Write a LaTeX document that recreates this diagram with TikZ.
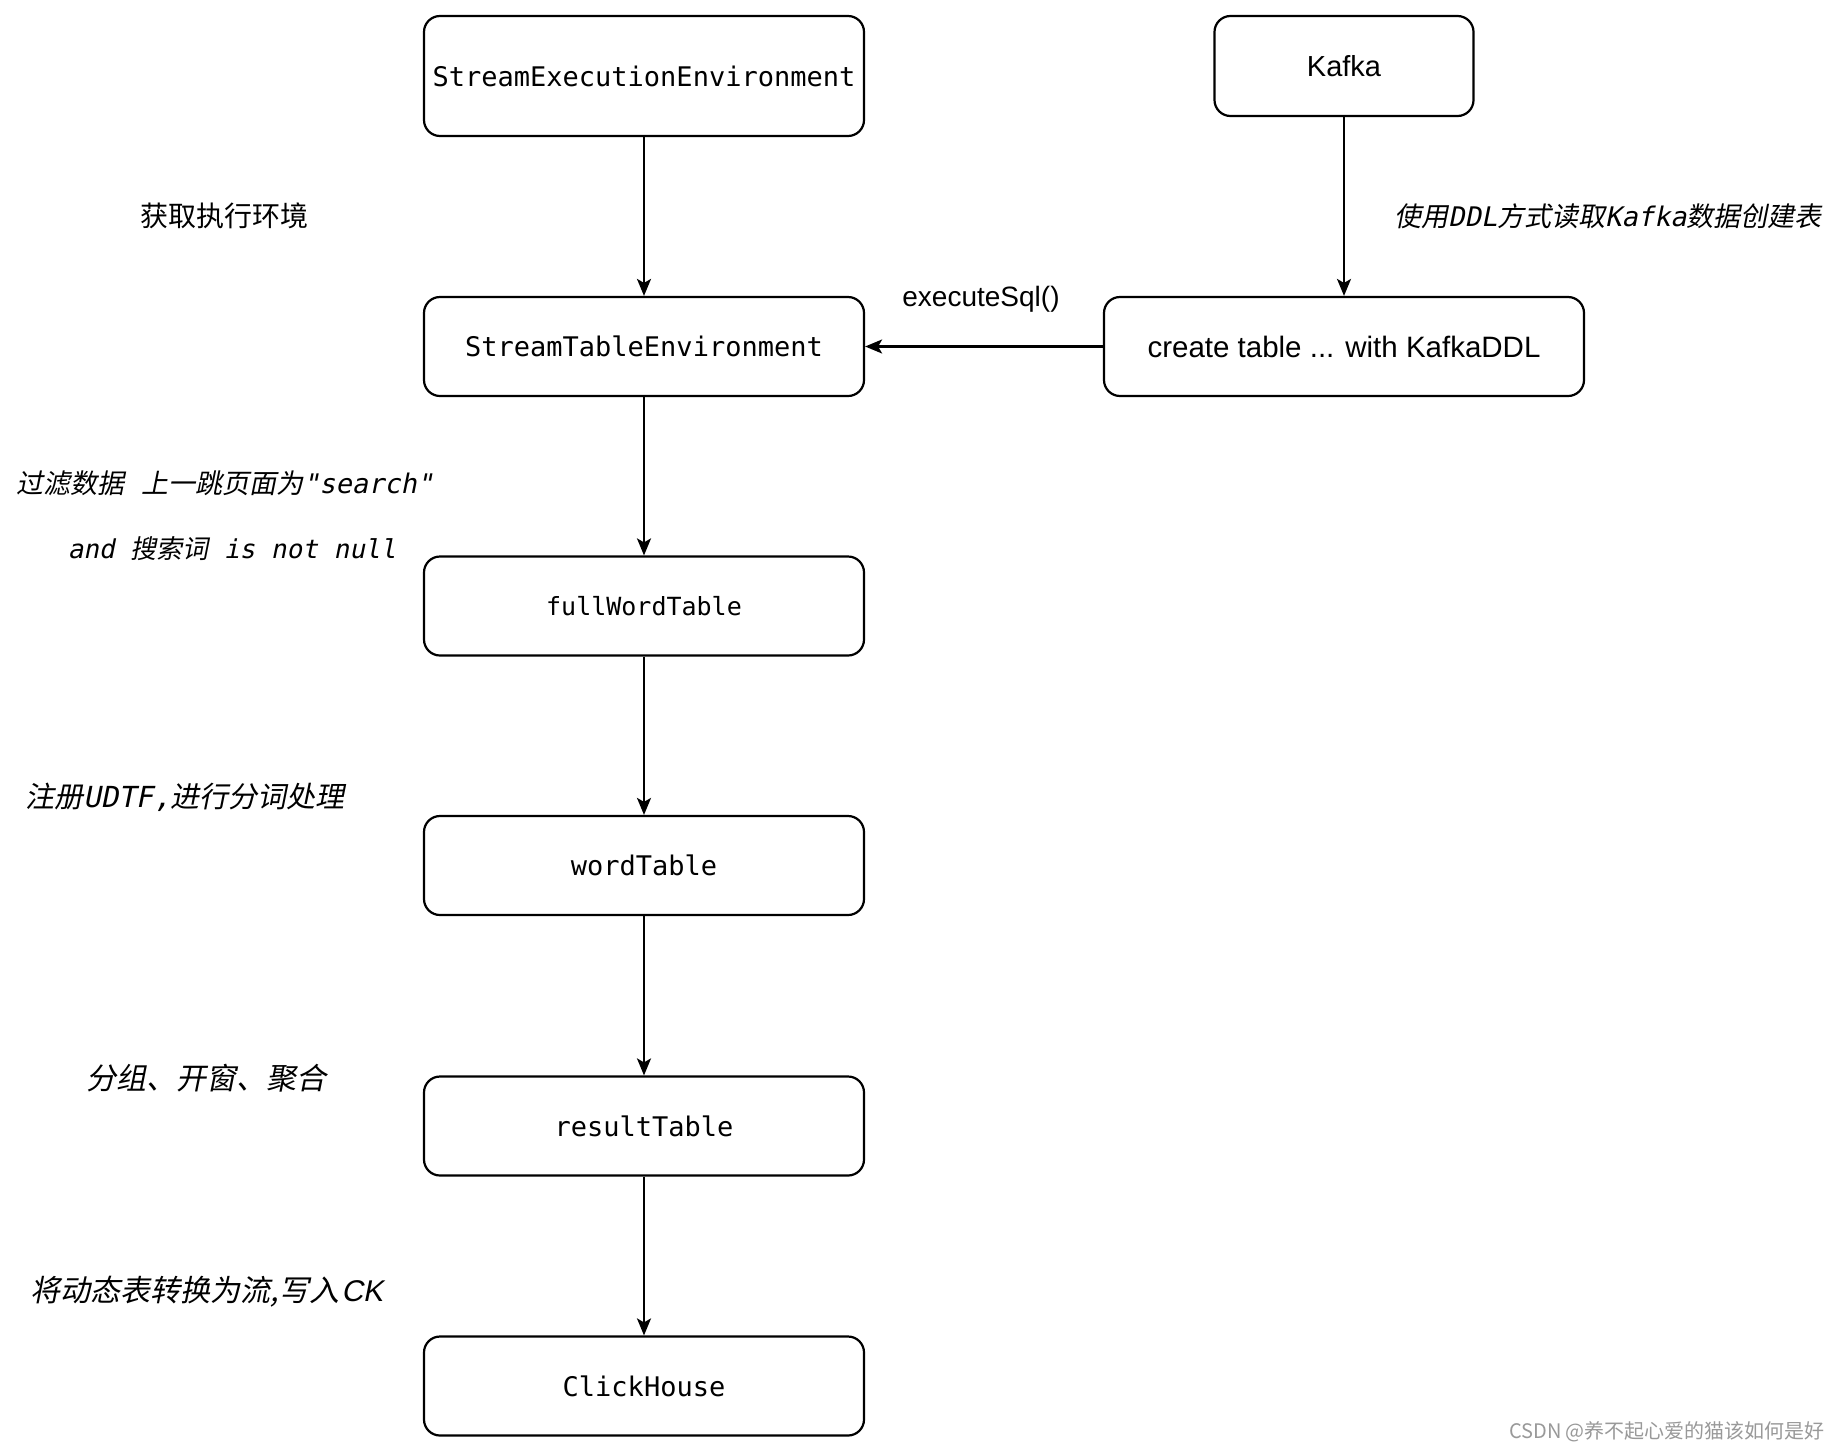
\documentclass[tikz,border=0pt]{standalone}
\usepackage{fontspec}
\usetikzlibrary{arrows.meta}
\setmainfont{Liberation Sans}
\newfontfamily\cjk{Noto Sans CJK SC}
\newfontfamily\cjki{Noto Sans CJK SC}[FakeSlant=0.2]
\newfontfamily\mono{DejaVu Sans Mono}
\newfontfamily\monoi{DejaVu Sans Mono}[FakeSlant=0.2]
\newfontfamily\sansi{Liberation Sans}[FakeSlant=0.2]
\begin{document}
\begin{tikzpicture}[x=1pt,y=-1pt,
  box/.style={draw, line width=2.2pt, rounded corners=16pt, inner sep=0pt, minimum width=440pt, minimum height=99pt, font=\mono\fontsize{27}{32}\selectfont},
  arr/.style={line width=2.2pt, -{Stealth[length=17pt,width=14pt,inset=4pt]}},
  lab/.style={inner sep=0pt, font=\fontsize{26}{32}\selectfont}]
\useasboundingbox (0,0) rectangle (1838,1454);
\fill[white] (0,0) rectangle (1838,1454);

\node[box, minimum height=120pt] (see) at (644,76) {StreamExecutionEnvironment};
\node[box, minimum width=259pt, minimum height=100pt, font=\fontsize{29}{34}\selectfont] (kafka) at (1344,66) {Kafka};
\node[box] (ste) at (644,346.5) {StreamTableEnvironment};
\node[box, minimum width=480pt, font=\fontsize{29.5}{34}\selectfont] (ct) at (1344,346.5) {create table ... with KafkaDDL};
\node[box, font=\mono\fontsize{25}{30}\selectfont] (fwt) at (644,606) {fullWordTable};
\node[box] (wt) at (644,865.5) {wordTable};
\node[box] (rt) at (644,1126) {resultTable};
\node[box] (ck) at (644,1386) {ClickHouse};

\draw[arr] (see) -- (ste);
\draw[arr] (kafka) -- (ct);
\draw[arr] (ct) -- (ste);
\draw[arr] (ste) -- (fwt);
\draw[arr] (fwt) -- (wt);
\draw[arr] (wt) -- (rt);
\draw[arr] (rt) -- (ck);

\node[lab, font=\cjk\fontsize{28}{32}\selectfont] (l1) at (224,216) {获取执行环境};
\node[lab, font=\fontsize{28}{32}\selectfont] (l2) at (981,299) {executeSql()};
\node[lab, font=\fontsize{27}{32}\selectfont] (l3) at (1608,216) {\cjki 使用\monoi DDL\cjki 方式读取\monoi Kafka\cjki 数据创建表};
\node[lab, font=\fontsize{27}{32}\selectfont] (l4) at (225,483) {{\cjki 过滤数据}{\monoi\ }{\cjki 上一跳页面为}{\monoi "search"}};
\node[lab] (l5) at (232,549) {\monoi and \cjki 搜索词\monoi{} is not null};
\node[lab, font=\fontsize{29}{32}\selectfont] (l6) at (185,797) {\cjki 注册\monoi UDTF,\cjki 进行分词处理};
\node[lab, font=\fontsize{30}{34}\selectfont] (l7) at (206,1078) {\cjki 分组、开窗、聚合};
\node[lab, font=\fontsize{30}{34}\selectfont] (l8) at (207,1292) {\cjki 将动态表转换为流,写入\kern2pt\sansi CK};
\node[inner sep=0pt, text=black!40, font=\cjk\fontsize{20}{24}\selectfont] (wm) at (1667,1432) {CSDN @养不起心爱的猫该如何是好};
\end{tikzpicture}
\end{document}
